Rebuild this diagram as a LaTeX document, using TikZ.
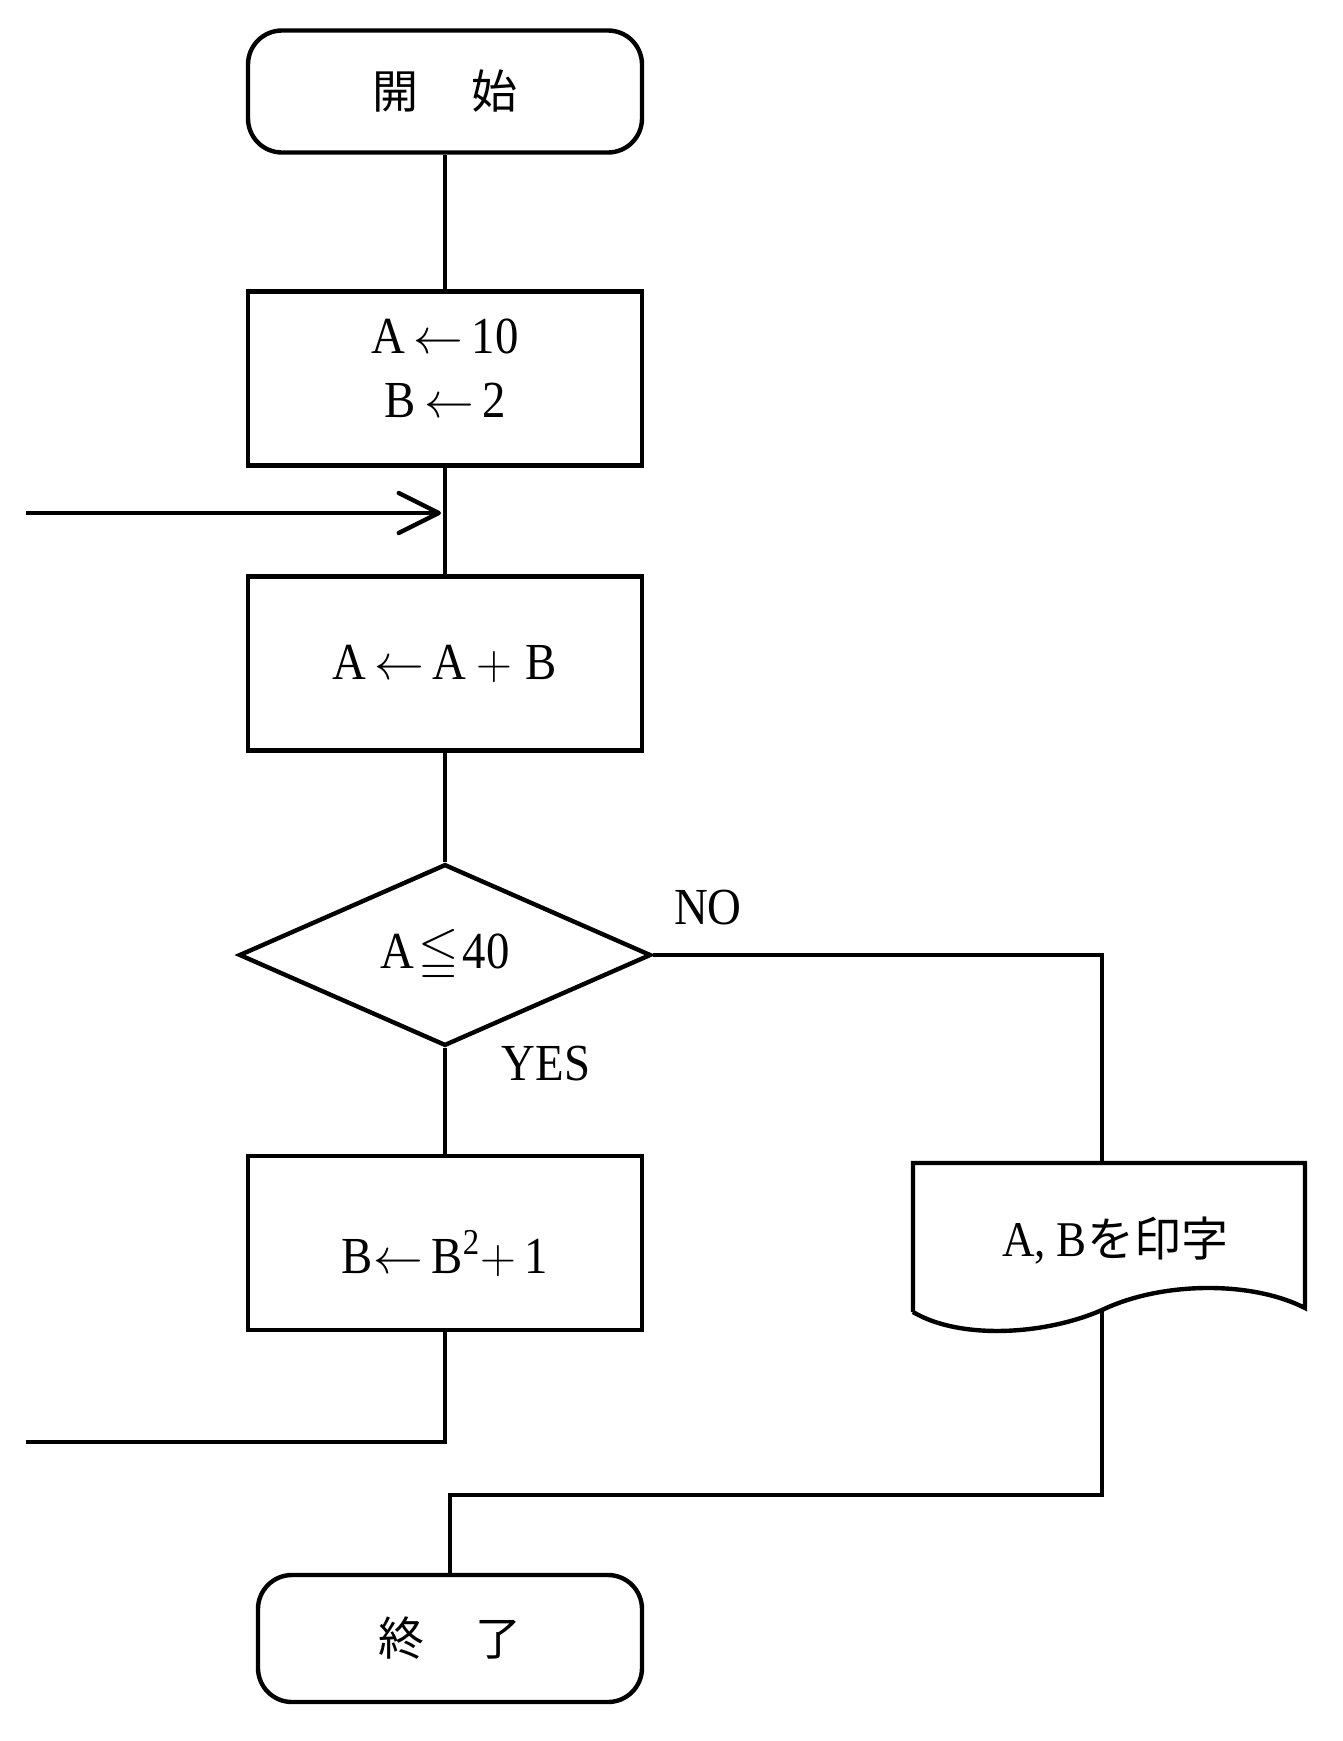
\documentclass[tikz,border=0pt]{standalone}
\usepackage{amssymb}
\usepackage{fontspec}
\setmainfont{Liberation Serif}[FakeStretch=0.9]
\newfontfamily\cjk{Noto Sans CJK JP}
\usetikzlibrary{shapes.geometric,arrows.meta}
\begin{document}
\begin{tikzpicture}[x=0.5pt,y=-0.5pt,
  flow/.style={draw, line width=2.2pt, inner sep=0pt, font=\fontsize{26pt}{32pt}\selectfont},
  term/.style={flow, rectangle, rounded corners=17pt, font=\cjk\fontsize{23pt}{28pt}\selectfont},
  proc/.style={flow, rectangle, minimum width=197pt, minimum height=87pt, align=center},
  dec/.style={flow, diamond, minimum width=206pt, minimum height=88pt},
  conn/.style={line width=2.2pt},
  lbl/.style={font=\fontsize{26pt}{32pt}\selectfont, inner sep=0pt}]
\useasboundingbox (0,0) rectangle (1343,1741);

% nodes
\node[term, minimum width=197pt, minimum height=61pt] (start) at (445,91.5) {開\hspace{27pt}始};
\node[proc, text height=50pt, text depth=11.5pt] (init) at (445,378.5) {A$\,\leftarrow\,$10\\B$\,\leftarrow\,$2};
\node[proc] (calc) at (445,663.5) {A\hspace{4pt}$\leftarrow$\hspace{4pt}A\hspace{5pt}$+$\hspace{7pt}B};
\node[dec] (dia) at (445,955) {A\hspace{2pt}$\leqq$\hspace{2pt}40};
\node[proc, text height=30pt, text depth=0pt] (upd) at (445,1243) {B$\leftarrow$\,B\textsuperscript{2}$+$\,1};
\node[term, minimum width=192pt, minimum height=63.5pt] (end) at (450,1638.5) {終\hspace{26pt}了};

% print (document) shape
\draw[conn] (913,1312) -- (913,1163) -- (1305,1163) -- (1305,1308)
  .. controls (1250,1280) and (1160,1282) .. (1102,1310)
  .. controls (1045,1335) and (960,1340) .. (913,1312);
\node[lbl, font=\fontsize{25pt}{30pt}\selectfont] (doc) at (1115,1241) {A, B{\cjk\fontsize{23.5pt}{28pt}\selectfont を印字}};
\coordinate (docT) at (1102,1163);
\coordinate (docB) at (1102,1310);

% labels
\node[lbl] (no) at (708,908) {NO};
\node[lbl] (yes) at (546,1064) {YES};

% connectors
\draw[conn] (start.south) -- (start.south |- init.north);
\draw[conn] (init.south) -- (calc.north);
\draw[conn] (calc.south) -- (dia.north);
\draw[conn] (dia.south) -- (upd.north);
\coordinate (loopB) at (26,1442);
\draw[conn] (upd.south) |- (loopB);
\coordinate (inL) at (26,513);
\coordinate (inR) at (441,513);
\draw[conn, -{Straight Barb[length=20pt,width=20pt,round]}] (inL) -- (inR);
\draw[conn] (dia.east) -| (docT);
\coordinate (turn) at (1102,1495);
\draw[conn] (docB) -- (turn) -| (end.north);
\end{tikzpicture}
\end{document}
